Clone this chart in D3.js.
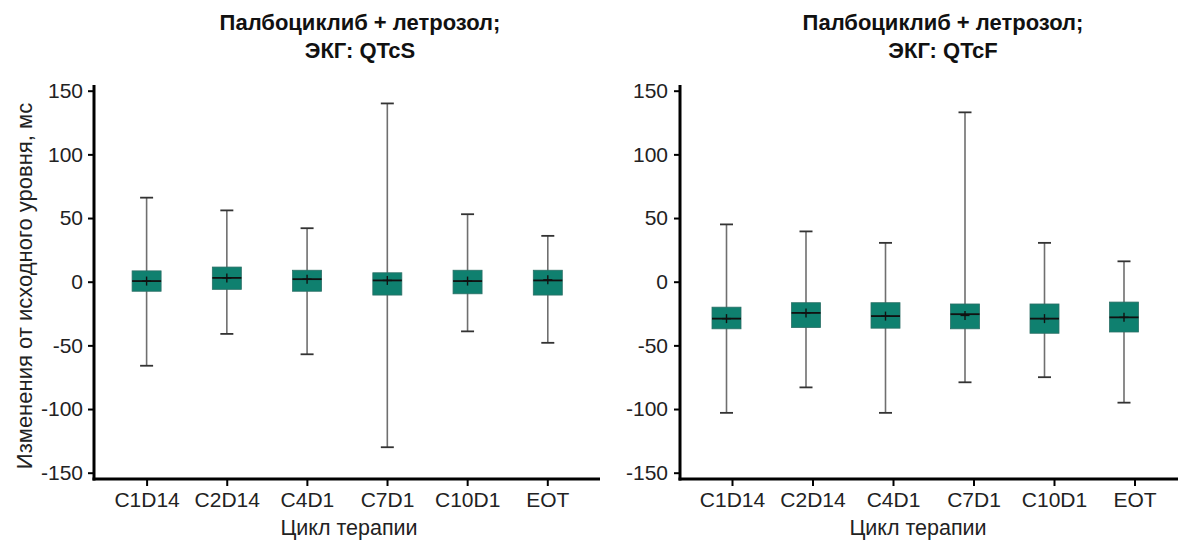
<!DOCTYPE html>
<html>
<head>
<meta charset="utf-8">
<script src="https://cdn.jsdelivr.net/npm/d3@7/dist/d3.min.js"></script>
<style>
  html, body { margin: 0; padding: 0; background: #fff; }
  svg { display: block; font-family: "Liberation Sans", Arial, Helvetica, sans-serif; }
</style>
</head>
<body>
<svg id="chart" width="1180" height="541"></svg>
<script>
// ---------- DATA ----------
const categories = ["C1D14", "C2D14", "C4D1", "C7D1", "C10D1", "EOT"];
const yTicks = [150, 100, 50, 0, -50, -100, -150];
const titlesLine1 = ["Палбоциклиб + летрозол;", "Палбоциклиб + летрозол;"];
const titlesLine2 = ["ЭКГ: QTcS", "ЭКГ: QTcF"];
const yAxisLabel = "Изменения от исходного уровня, мс";
const xAxisLabel = "Цикл терапии";

// QTcS panel
const qtcsMin    = [-66, -41, -57, -130, -39, -48];
const qtcsQ1     = [-7.5, -6, -7.5, -10.5, -9.5, -10.5];
const qtcsMedian = [0.5, 3, 2, 1, 0.5, 1];
const qtcsMean   = [0.5, 3, 2, 1, 0.5, 1.5];
const qtcsQ3     = [8.5, 11.5, 9, 7, 9, 9];
const qtcsMax    = [66, 56, 42, 140, 53, 36];

// QTcF panel
const qtcfMin    = [-103, -83, -103, -79, -75, -95];
const qtcfQ1     = [-37, -36, -36.5, -37, -40.5, -39.5];
const qtcfMedian = [-29, -24.5, -27, -25.5, -29, -28];
const qtcfMean   = [-29, -24.5, -27, -26.5, -29, -28];
const qtcfQ3     = [-20, -16.5, -16.5, -17.5, -17.5, -16];
const qtcfMax    = [45, 39.5, 30.5, 133, 30.5, 16];

function rows(mn, q1, md, mean, q3, mx) {
  return categories.map((c, i) => ({cat: c, min: mn[i], q1: q1[i], median: md[i], mean: mean[i], q3: q3[i], max: mx[i]}));
}
const panelData = [
  rows(qtcsMin, qtcsQ1, qtcsMedian, qtcsMean, qtcsQ3, qtcsMax),
  rows(qtcfMin, qtcfQ1, qtcfMedian, qtcfMean, qtcfQ3, qtcfMax)
];

// ---------- LAYOUT ----------
const panels = [
  {axisX: 94, axisEnd: 600, tickRange: [146.6, 547.3], boxRange: [146.6, 547.8], titleX: 360, xLabelX: 349, labelGap: 11},
  {axisX: 680, axisEnd: 1178, tickRange: [732, 1134.5], boxRange: [726.5, 1124], titleX: 943, xLabelX: 918, labelGap: 12}
];
const xAxisY = 479;
const yAxisTop = 85;
const teal = "#0f806f";
const boxW = 29;
const capW = 13;

const svg = d3.select("#chart");
svg.append("rect").attr("width", 1180).attr("height", 541).attr("fill", "#fff");

const y = d3.scaleLinear().domain([-150, 150]).range([472.7, 90.7]);

panels.forEach((p, pi) => {
  const g = svg.append("g");
  const xTick = d3.scalePoint().domain(categories).range(p.tickRange);
  const xBox = d3.scalePoint().domain(categories).range(p.boxRange);
  const data = panelData[pi];

  // Title
  g.append("text").attr("x", p.titleX).attr("y", 29.5).attr("text-anchor", "middle")
    .attr("font-size", 22).attr("font-weight", "bold").attr("fill", "#111").text(titlesLine1[pi]);
  g.append("text").attr("x", p.titleX).attr("y", 58).attr("text-anchor", "middle")
    .attr("font-size", 22).attr("font-weight", "bold").attr("fill", "#111").text(titlesLine2[pi]);

  // Whiskers
  const bx = g.selectAll("g.box").data(data).join("g").attr("class", "box");
  bx.append("line")
    .attr("x1", d => xBox(d.cat)).attr("x2", d => xBox(d.cat))
    .attr("y1", d => y(d.max)).attr("y2", d => y(d.min))
    .attr("stroke", "#6f6f6f").attr("stroke-width", 1.6);
  bx.append("line")
    .attr("x1", d => xBox(d.cat) - capW / 2).attr("x2", d => xBox(d.cat) + capW / 2)
    .attr("y1", d => y(d.max)).attr("y2", d => y(d.max))
    .attr("stroke", "#333").attr("stroke-width", 1.8);
  bx.append("line")
    .attr("x1", d => xBox(d.cat) - capW / 2).attr("x2", d => xBox(d.cat) + capW / 2)
    .attr("y1", d => y(d.min)).attr("y2", d => y(d.min))
    .attr("stroke", "#333").attr("stroke-width", 1.8);
  // Boxes
  bx.append("rect")
    .attr("x", d => xBox(d.cat) - boxW / 2).attr("width", boxW)
    .attr("y", d => y(d.q3)).attr("height", d => y(d.q1) - y(d.q3))
    .attr("fill", teal).attr("stroke", "#2b6f66").attr("stroke-width", 0.8);
  // Median
  bx.append("line")
    .attr("x1", d => xBox(d.cat) - boxW / 2).attr("x2", d => xBox(d.cat) + boxW / 2)
    .attr("y1", d => y(d.median)).attr("y2", d => y(d.median))
    .attr("stroke", "#111").attr("stroke-width", 1.8);
  // Mean marker (+)
  bx.append("line")
    .attr("x1", d => xBox(d.cat)).attr("x2", d => xBox(d.cat))
    .attr("y1", d => y(d.mean) - 4.5).attr("y2", d => y(d.mean) + 4.5)
    .attr("stroke", "#111").attr("stroke-width", 1.4);
  bx.append("line")
    .attr("x1", d => xBox(d.cat) - 4.5).attr("x2", d => xBox(d.cat) + 4.5)
    .attr("y1", d => y(d.mean)).attr("y2", d => y(d.mean))
    .attr("stroke", "#111").attr("stroke-width", 1.4);

  // Y axis
  const yAxis = d3.axisLeft(y).tickValues(yTicks).tickSize(6).tickPadding(p.labelGap - 6).tickFormat(d3.format("d"));
  const ya = g.append("g").attr("transform", `translate(${p.axisX},0)`).call(yAxis);
  ya.select(".domain").remove();
  ya.selectAll(".tick line").attr("stroke", "#000").attr("stroke-width", 2);
  ya.selectAll(".tick text").attr("font-size", 21).attr("fill", "#222")
    .attr("font-family", "'Liberation Sans', Arial, sans-serif")
    .text(d => d < 0 ? "-" + Math.abs(d) : d);
  g.append("line").attr("x1", p.axisX).attr("x2", p.axisX).attr("y1", yAxisTop).attr("y2", xAxisY + 1.5)
    .attr("stroke", "#000").attr("stroke-width", 3);

  // X axis
  const xAxis = d3.axisBottom(xTick).tickSize(7).tickPadding(6);
  const xa = g.append("g").attr("transform", `translate(0,${xAxisY})`).call(xAxis);
  xa.select(".domain").remove();
  xa.selectAll(".tick line").attr("stroke", "#000").attr("stroke-width", 2);
  xa.selectAll(".tick text").attr("font-size", 21).attr("fill", "#222")
    .attr("font-family", "'Liberation Sans', Arial, sans-serif");
  g.append("line").attr("x1", p.axisX - 1.5).attr("x2", p.axisEnd).attr("y1", xAxisY).attr("y2", xAxisY)
    .attr("stroke", "#000").attr("stroke-width", 3);

  // X axis label
  g.append("text").attr("x", p.xLabelX).attr("y", 534.5).attr("text-anchor", "middle")
    .attr("font-size", 21.5).attr("fill", "#222").text(xAxisLabel);
});

// Y axis label (left panel only)
svg.append("text")
  .attr("transform", "translate(32,286) rotate(-90)")
  .attr("text-anchor", "middle").attr("font-size", 22).attr("fill", "#222")
  .text(yAxisLabel);
</script>
</body>
</html>
